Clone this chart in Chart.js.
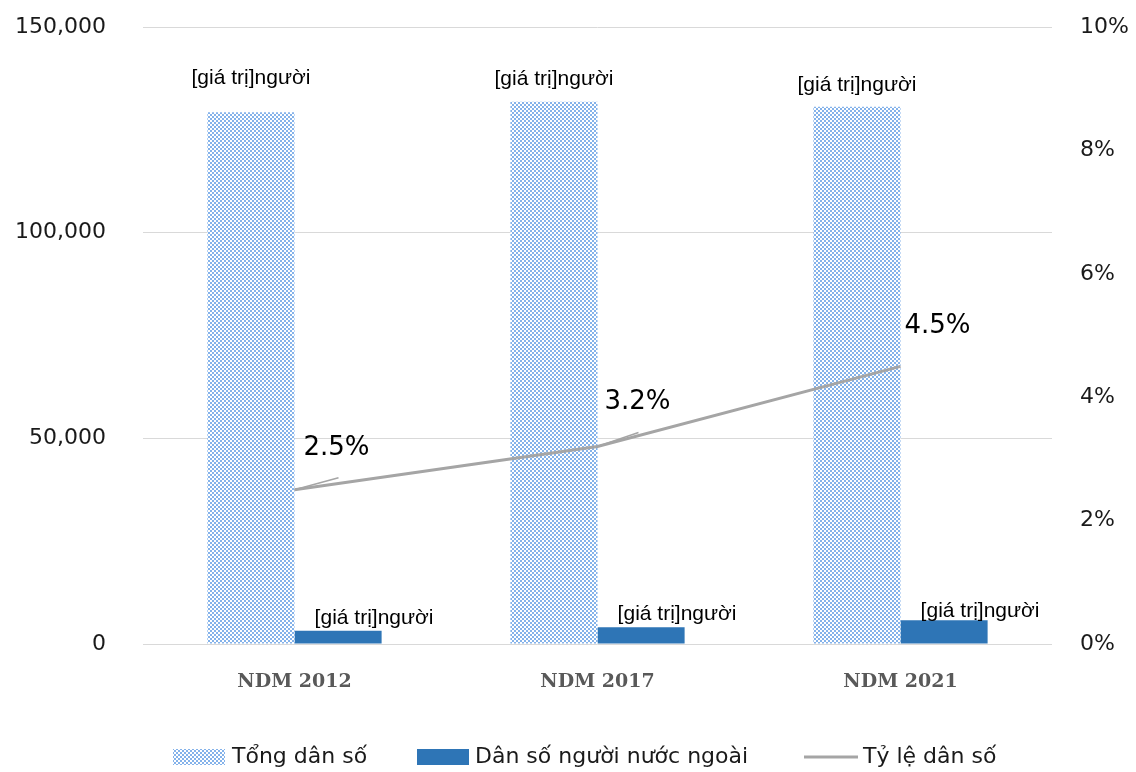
<!DOCTYPE html>
<html>
<head>
<meta charset="utf-8">
<script src="https://cdn.jsdelivr.net/npm/chart.js@4.4.1/dist/chart.umd.min.js"></script>
<style>
  html, body { margin: 0; padding: 0; background: #fff; }
  #wrap { width: 1136px; height: 772px; position: relative; }
</style>
</head>
<body>
<div id="wrap"><canvas id="popChart"></canvas></div>
<script>
// data
var categories = ['NDM 2012', 'NDM 2017', 'NDM 2021'];
var tongDanSo = [129300, 131800, 130600];
var danSoNuocNgoai = [3200, 4100, 5800];
var tyLe = [2.5, 3.2, 4.5];
var leftTicks = [0, 50000, 100000, 150000];
var rightTicks = [0, 2, 4, 6, 8, 10];
var barLabelText = '[giá trị]người';

(function () {
    'use strict';

    // checker pattern like the Excel "small checkerboard" fill
    function makePattern() {
        var c = document.createElement('canvas');
        c.width = 4; c.height = 4;
        var g = c.getContext('2d');
        g.fillStyle = '#ffffff';
        g.fillRect(0, 0, 4, 4);
        g.fillStyle = '#84b2ea';
        g.fillRect(0, 0, 2, 2);
        g.fillRect(2, 2, 2, 2);
        return g.createPattern(c, 'repeat');
    }

    var ctx = document.getElementById('popChart').getContext('2d');
    var checker = makePattern();

    Chart.defaults.font.family = '"DejaVu Sans", Verdana, sans-serif';
    Chart.defaults.color = '#1a1a1a';

    // label offsets (px) for the data labels, Excel had them placed by hand
    var topLabelDy = [-34, -23, -22];
    var lowLabelDx = [36, 36, 36];
    var lowLabelDy = [-13, -13, -9];
    var pctLabelPos = [[9, -42], [7, -44], [4, -40]];
    var leaders = [[44, -12], [41, -14], null];

    var labelPlugin = {
        id: 'labelPlugin',
        afterDatasetsDraw: function (chart) {
            var c = chart.ctx;
            c.save();
            // bar labels
            c.font = '21px "Liberation Sans", Arial, sans-serif';
            c.fillStyle = '#000';
            c.textAlign = 'center';
            c.textBaseline = 'middle';
            chart.getDatasetMeta(0).data.forEach(function (bar, i) {
                c.fillText(barLabelText, bar.x, bar.y + topLabelDy[i]);
            });
            chart.getDatasetMeta(1).data.forEach(function (bar, i) {
                c.fillText(barLabelText, bar.x + lowLabelDx[i], bar.y + lowLabelDy[i]);
            });
            // percent labels + leader lines
            var lineMeta = chart.getDatasetMeta(2);
            c.strokeStyle = '#a5a5a5';
            c.lineWidth = 1.5;
            lineMeta.data.forEach(function (pt, i) {
                if (leaders[i]) {
                    c.beginPath();
                    c.moveTo(pt.x, pt.y);
                    c.lineTo(pt.x + leaders[i][0], pt.y + leaders[i][1]);
                    c.stroke();
                }
            });
            c.font = '26px "DejaVu Sans", Verdana, sans-serif';
            c.textAlign = 'left';
            lineMeta.data.forEach(function (pt, i) {
                c.fillText(tyLe[i].toFixed(1) + '%', pt.x + pctLabelPos[i][0], pt.y + pctLabelPos[i][1]);
            });
            c.restore();
        }
    };

    var legendPlugin = {
        id: 'legendPlugin',
        afterDraw: function (chart) {
            var c = chart.ctx;
            var ds = chart.data.datasets;
            var y = 757;
            var items = [
                { sx: 173, tx: 232, kind: 'box' },
                { sx: 417, tx: 475, kind: 'box' },
                { sx: 804, tx: 863, kind: 'line' }
            ];
            c.save();
            c.font = '22px "DejaVu Sans", Verdana, sans-serif';
            c.textBaseline = 'middle';
            c.textAlign = 'left';
            items.forEach(function (it, i) {
                var d = ds[i];
                if (it.kind === 'box') {
                    c.fillStyle = d.backgroundColor;
                    c.fillRect(it.sx, y - 8, 52, 16);
                } else {
                    c.strokeStyle = d.borderColor;
                    c.lineWidth = 3;
                    c.beginPath();
                    c.moveTo(it.sx, y);
                    c.lineTo(it.sx + 54, y);
                    c.stroke();
                }
                c.fillStyle = '#1a1a1a';
                c.fillText(d.label, it.tx, y);
            });
            c.restore();
        }
    };

    var chart = new Chart(ctx, {
        type: 'bar',
        data: {
            labels: categories,
            datasets: [
                {
                    label: 'Tổng dân số',
                    data: tongDanSo,
                    backgroundColor: checker,
                    yAxisID: 'y',
                    order: 2,
                    categoryPercentage: 0.575,
                    barPercentage: 1
                },
                {
                    label: 'Dân số người nước ngoài',
                    data: danSoNuocNgoai,
                    backgroundColor: '#2e75b6',
                    yAxisID: 'y',
                    order: 2,
                    categoryPercentage: 0.575,
                    barPercentage: 1
                },
                {
                    type: 'line',
                    label: 'Tỷ lệ dân số',
                    data: tyLe,
                    borderColor: '#a5a5a5',
                    backgroundColor: '#a5a5a5',
                    borderWidth: 3,
                    pointRadius: 0,
                    tension: 0,
                    yAxisID: 'y1',
                    order: 1
                }
            ]
        },
        options: {
            responsive: true,
            maintainAspectRatio: false,
            animation: false,
            layout: { padding: { top: 27, left: 0, right: 0, bottom: 0 } },
            plugins: {
                legend: { display: false },
                tooltip: { enabled: false }
            },
            scales: {
                x: {
                    grid: { display: false },
                    border: { display: false },
                    ticks: {
                        padding: 19,
                        color: '#595959',
                        font: { family: '"DejaVu Serif", Georgia, serif', size: 19, weight: 'bold' }
                    },
                    afterFit: function (scale) { scale.height = 128; }
                },
                y: {
                    position: 'left',
                    min: 0,
                    max: 150000,
                    afterBuildTicks: function (scale) {
                        scale.ticks = leftTicks.map(function (v) { return { value: v }; });
                    },
                    grid: { color: '#d9d9d9', lineWidth: 1, drawTicks: false },
                    border: { display: false },
                    ticks: {
                        padding: 37,
                        font: { size: 22 },
                        callback: function (v) { return v.toLocaleString('en-US'); }
                    },
                    afterFit: function (scale) {
                        scale.width = 143;
                        scale.paddingTop = 0;
                        scale.paddingBottom = 0;
                    }
                },
                y1: {
                    position: 'right',
                    min: 0,
                    max: 10,
                    afterBuildTicks: function (scale) {
                        scale.ticks = rightTicks.map(function (v) { return { value: v }; });
                    },
                    grid: { drawOnChartArea: false, drawTicks: false },
                    border: { display: false },
                    ticks: {
                        padding: 28,
                        font: { size: 22 },
                        callback: function (v) { return v + '%'; }
                    },
                    afterFit: function (scale) {
                        scale.width = 84;
                        scale.paddingTop = 0;
                        scale.paddingBottom = 0;
                    }
                }
            }
        },
        plugins: [labelPlugin, legendPlugin]
    });
})();
</script>
</body>
</html>
